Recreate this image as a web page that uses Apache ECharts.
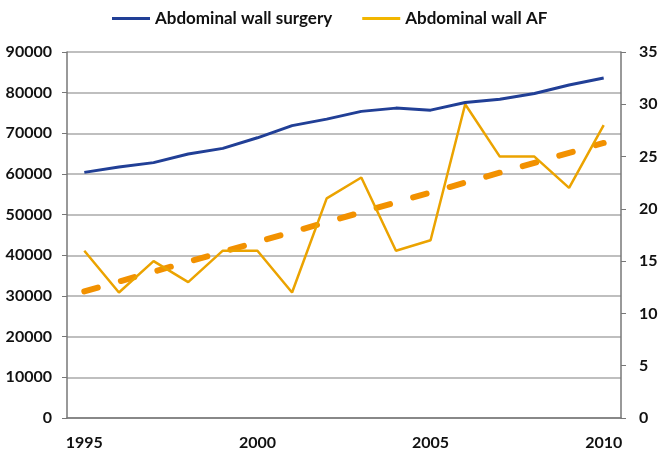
<!DOCTYPE html>
<html><head><meta charset="utf-8">
<script src="https://cdn.jsdelivr.net/npm/echarts@6/dist/echarts.min.js"></script>
<style>html,body{margin:0;padding:0;background:#fff}#c{width:661px;height:453px}</style>
</head><body><div id="c"></div>
<script>
const years = ['1995','1996','1997','1998','1999','2000','2001','2002','2003','2004','2005','2006','2007','2008','2009','2010'];
const surgery = [60400,61700,62800,64900,66300,68900,71900,73500,75400,76200,75700,77600,78400,79800,81900,83600];
const af = [16,12,15,13,16,16,12,21,23,16,17,30,25,25,22,28];
const afTrend = [12.1,null,null,null,null,null,null,null,null,null,null,null,null,null,null,26.3];
const leftTicks = [0,90000,10000];
const rightTicks = [0,35,5];
const FONT = 'Lato';
const chart = echarts.init(document.getElementById('c'));
const lab = {color:'#111',fontSize:16,fontWeight:'bold',fontFamily:FONT};
chart.setOption({
  animation:false,
  textStyle:{fontFamily:FONT},
  legend:{data:['Abdominal wall surgery','Abdominal wall AF'],top:5,left:107,icon:'rect',itemWidth:38,itemHeight:3,itemGap:30,
    textStyle:{fontFamily:FONT,fontSize:17,fontWeight:'bold',color:'#111'}},
  grid:{left:67,right:40,top:52,bottom:35},
  xAxis:{type:'category',data:years,boundaryGap:true,
    axisLine:{lineStyle:{color:'#777',width:1.5}},
    axisTick:{alignWithLabel:true,interval:0,length:5,lineStyle:{color:'#777'}},
    axisLabel:Object.assign({interval:4,margin:17},lab)},
  yAxis:[
    {type:'value',min:leftTicks[0],max:leftTicks[1],interval:leftTicks[2],
     axisLine:{show:true,lineStyle:{color:'#777',width:1.5}},
     axisTick:{show:true,length:5,lineStyle:{color:'#777'}},
     axisLabel:Object.assign({margin:15,formatter:v=>String(v)},lab),
     splitLine:{lineStyle:{color:'#aaa',width:1.5}}},
    {type:'value',min:rightTicks[0],max:rightTicks[1],interval:rightTicks[2],position:'right',
     axisLine:{show:true,lineStyle:{color:'#777',width:1.5}},
     axisTick:{show:true,length:5,lineStyle:{color:'#777'}},
     axisLabel:Object.assign({margin:18,formatter:v=>String(v)},lab),
     splitLine:{show:false}}
  ],
  series:[
    {name:'Abdominal wall surgery',type:'line',data:surgery,yAxisIndex:0,showSymbol:false,symbol:'none',
     lineStyle:{color:'#213f96',width:3},itemStyle:{color:'#213f96'},z:3},
    {name:'Abdominal wall AF',type:'line',data:af,yAxisIndex:1,showSymbol:false,symbol:'none',
     lineStyle:{color:'#eba300',width:2.5},itemStyle:{color:'#f2b600'},z:2},
    {name:'trend',type:'line',data:afTrend,yAxisIndex:1,connectNulls:true,showSymbol:false,symbol:'none',
     lineStyle:{color:'#f29100',width:6,type:[14,24],cap:'round'},z:1}
  ]
});
</script></body></html>
